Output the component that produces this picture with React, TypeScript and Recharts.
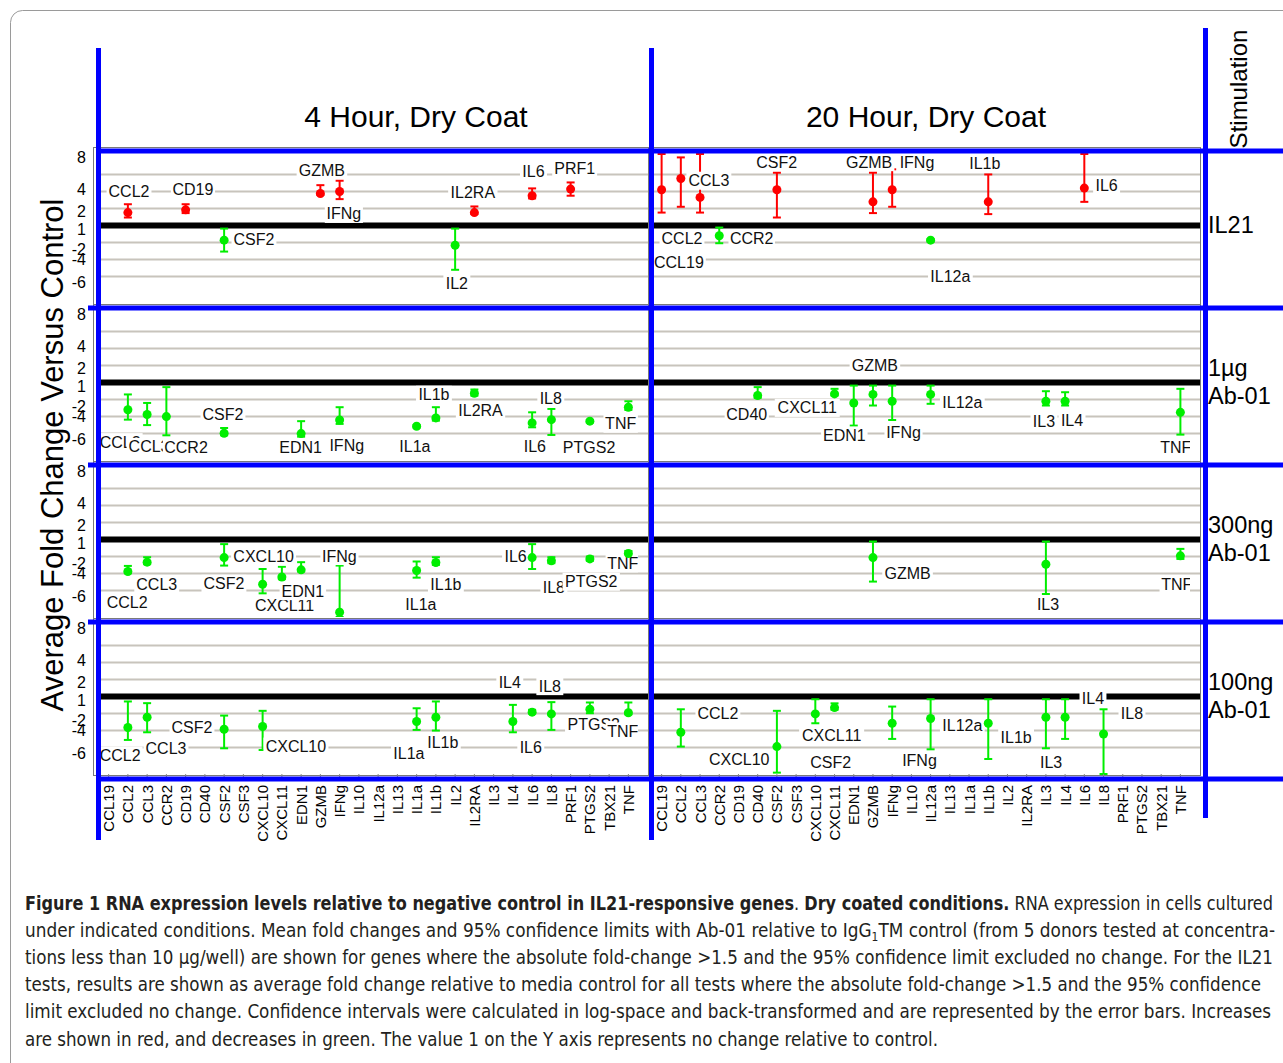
import { ScatterChart, Scatter, XAxis, YAxis, CartesianGrid, ErrorBar } from "recharts"

const FONT = "'Liberation Sans', Arial, Helvetica, sans-serif"
const RED = "#ff0000"
const GREEN = "#00ee00"
const BLUE = "#0000ff"

// genes along the x axis, same in every panel
const genes = [
  "CCL19", "CCL2", "CCL3", "CCR2", "CD19", "CD40", "CSF2", "CSF3", "CXCL10", "CXCL11",
  "EDN1", "GZMB", "IFNg", "IL10", "IL12a", "IL13", "IL1a", "IL1b", "IL2", "IL2RA",
  "IL3", "IL4", "IL6", "IL8", "PRF1", "PTGS2", "TBX21", "TNF",
]

// the y axis is a compressed log scale, 0 = fold change 1 (no change)
const yDomain = [-4.55, 4.2]
const yTickValues = [4.0, 2.1, 0.82, -0.25, -1.4, -2.0, -3.35]
const yTickLabels = ["8", "4", "2", "1", "-2", "-4", "-6"]
const gridValues = [3, 2, 1, -1, -2, -3]

const columnTitles = ["4 Hour, Dry Coat", "20 Hour, Dry Coat"]
const rowTitles = [["IL21"], ["1µg", "Ab-01"], ["300ng", "Ab-01"], ["100ng", "Ab-01"]]

// [gene, mean, lower 95% limit, upper 95% limit]
// [gene, x (gene index), y] = where the gene name is printed
const il21Hr4 = [
  ["CCL2", 0.76, 0.47, 1.25],
  ["CD19", 0.92, 0.73, 1.25],
  ["CSF2", -0.86, -1.53, -0.18],
  ["GZMB", 1.88, 1.8, 2.37],
  ["IFNg", 2.0, 1.55, 2.63],
  ["IL2", -1.16, -2.6, -0.18],
  ["IL2RA", 0.76, 0.67, 1.12],
  ["IL6", 1.75, 1.59, 2.18],
  ["PRF1", 2.14, 1.75, 2.53],
]
const il21Hr4Names = [
  ["CCL2", 1.06, 2.0], ["CD19", 4.38, 2.1], ["CSF2", 7.55, -0.8], ["GZMB", 11.08, 3.25],
  ["IFNg", 12.22, 0.68], ["IL2", 18.09, -3.4], ["IL2RA", 18.92, 1.94], ["IL6", 22.07, 3.2],
  ["PRF1", 24.21, 3.35],
]

const il21Hr20 = [
  ["CCL19", 2.1, 0.76, 4.5],
  ["CCL2", 2.76, 1.1, 4.0],
  ["CCL3", 1.65, 0.76, 4.5],
  ["CCR2", -0.6, -1.04, -0.12],
  ["CSF2", 2.1, 0.47, 3.1],
  ["GZMB", 1.39, 0.73, 3.1],
  ["IFNg", 2.1, 1.1, 3.3],
  ["IL12a", -0.86, -0.95, -0.8],
  ["IL1b", 1.39, 0.67, 3.0],
  ["IL6", 2.2, 1.39, 4.5],
]
const il21Hr20Names = [
  ["CCL19", 0.9, -2.2], ["CCL2", 1.06, -0.75], ["CCL3", 2.46, 2.63], ["CCR2", 4.69, -0.77],
  ["CSF2", 5.99, 3.72], ["GZMB", 10.8, 3.72], ["IFNg", 13.29, 3.72], ["IL12a", 15.03, -3.0],
  ["IL1b", 16.82, 3.67], ["IL6", 23.16, 2.37],
]

const ug1Hr4 = [
  ["CCL2", -1.6, -2.18, -0.7],
  ["CCL3", -1.88, -2.5, -1.2],
  ["CCR2", -2.0, -3.1, -0.27],
  ["CSF2", -2.98, -3.1, -2.67],
  ["EDN1", -3.0, -3.18, -2.27],
  ["IFNg", -2.2, -2.43, -1.45],
  ["IL1a", -2.57, -2.65, -2.5],
  ["IL1b", -2.08, -2.24, -1.45],
  ["IL2RA", -0.63, -0.77, -0.41],
  ["IL6", -2.37, -2.63, -1.75],
  ["IL8", -2.18, -3.08, -1.55],
  ["PTGS2", -2.27, -2.35, -2.2],
  ["TNF", -1.45, -1.61, -1.1],
]
const ug1Hr4Names = [
  ["CCL2", 0.6, -3.5], ["CCL3", 2.1, -3.78], ["CCR2", 4.02, -3.84], ["CSF2", 5.94, -1.9],
  ["EDN1", 9.97, -3.84], ["IFNg", 12.37, -3.72], ["IL1a", 15.91, -3.78], ["IL1b", 16.9, -0.72],
  ["IL2RA", 19.32, -1.65], ["IL6", 22.14, -3.78], ["IL8", 22.97, -0.96], ["PTGS2", 24.96, -3.84],
  ["TNF", 26.6, -2.42],
]

const ug1Hr20 = [
  ["CD40", -0.76, -0.9, -0.27],
  ["CXCL11", -0.67, -0.76, -0.37],
  ["EDN1", -1.2, -2.53, -0.18],
  ["GZMB", -0.7, -1.35, -0.18],
  ["IFNg", -1.1, -2.2, -0.18],
  ["IL12a", -0.7, -1.25, -0.18],
  ["IL3", -1.1, -1.35, -0.51],
  ["IL4", -1.1, -1.35, -0.57],
  ["TNF", -1.75, -3.06, -0.37],
]
const ug1Hr20Names = [
  ["CD40", 4.43, -1.9], ["CXCL11", 7.58, -1.49], ["EDN1", 9.51, -3.12], ["GZMB", 11.1, 1.0],
  ["IFNg", 12.59, -2.92], ["IL12a", 15.65, -1.2], ["IL3", 19.9, -2.27], ["IL4", 21.36, -2.23],
  ["TNF", 26.76, -3.84],
]

const ng300Hr4 = [
  ["CCL2", -1.88, -1.98, -1.55],
  ["CCL3", -1.33, -1.45, -1.04],
  ["CSF2", -1.06, -1.53, -0.27],
  ["CXCL10", -2.63, -3.16, -1.73],
  ["CXCL11", -2.2, -2.33, -1.6],
  ["EDN1", -1.78, -1.88, -1.33],
  ["IFNg", -4.27, -4.6, -1.53],
  ["IL1a", -1.82, -2.24, -1.29],
  ["IL1b", -1.35, -1.49, -1.04],
  ["IL6", -1.06, -1.73, -0.27],
  ["IL8", -1.25, -1.39, -1.04],
  ["PTGS2", -1.14, -1.25, -1.0],
  ["TNF", -0.82, -0.9, -0.67],
]
const ng300Hr4Names = [
  ["CCL2", 0.96, -3.68], ["CCL3", 2.5, -2.63], ["CSF2", 5.99, -2.6], ["CXCL10", 8.05, -1.0],
  ["CXCL11", 9.14, -3.9], ["EDN1", 10.09, -3.03], ["IFNg", 11.99, -0.97], ["IL1a", 16.22, -3.84],
  ["IL1b", 17.52, -2.63], ["IL6", 21.14, -1.0], ["IL8", 23.13, -2.82], ["PTGS2", 25.07, -2.48],
  ["TNF", 26.71, -1.4],
]

const ng300Hr20 = [
  ["GZMB", -1.06, -2.47, -0.12],
  ["IL3", -1.45, -3.2, -0.12],
  ["TNF", -0.96, -1.14, -0.55],
]
const ng300Hr20Names = [["GZMB", 12.8, -1.98], ["IL3", 20.11, -3.8], ["TNF", 26.81, -2.63]]

const ng100Hr4 = [
  ["CCL2", -1.82, -2.55, -0.29],
  ["CCL3", -1.22, -2.1, -0.39],
  ["CSF2", -1.92, -3.04, -1.12],
  ["CXCL10", -1.76, -3.14, -0.84],
  ["IL1a", -1.47, -1.96, -0.69],
  ["IL1b", -1.22, -2.0, -0.29],
  ["IL4", -1.47, -2.1, -0.49],
  ["IL6", -0.92, -1.0, -0.78],
  ["IL8", -1.02, -1.96, -0.33],
  ["PTGS2", -0.75, -0.98, -0.35],
  ["TNF", -0.95, -1.05, -0.35],
]
const ng100Hr4Names = [
  ["CCL2", 0.6, -3.46], ["CCL3", 2.98, -3.03], ["CSF2", 4.33, -1.8], ["CXCL10", 9.73, -2.94],
  ["IL1a", 15.6, -3.36], ["IL1b", 17.36, -2.68], ["IL4", 20.84, 0.85], ["IL6", 21.93, -2.97],
  ["IL8", 22.92, 0.61], ["PTGS2", 25.2, -1.66], ["TNF", 26.71, -2.05],
]

const ng100Hr20 = [
  ["CCL2", -2.1, -2.94, -0.75],
  ["CSF2", -2.94, -4.47, -0.84],
  ["CXCL10", -1.02, -1.57, -0.16],
  ["CXCL11", -0.65, -0.78, -0.4],
  ["IFNg", -1.57, -2.49, -0.59],
  ["IL12a", -1.29, -3.1, -0.16],
  ["IL1b", -1.57, -3.67, -0.16],
  ["IL3", -1.22, -3.04, -0.16],
  ["IL4", -1.22, -2.49, -0.16],
  ["IL8", -2.2, -4.6, -0.75],
]
const ng100Hr20Names = [
  ["CCL2", 2.93, -1.02], ["CXCL10", 4.04, -3.72], ["CSF2", 8.8, -3.88], ["CXCL11", 8.85, -2.28],
  ["IFNg", 13.42, -3.78], ["IL12a", 15.65, -1.68], ["IL1b", 18.45, -2.38], ["IL3", 20.27, -3.9],
  ["IL4", 22.45, -0.14], ["IL8", 24.48, -1.02],
]

const panels = [
  [il21Hr4, il21Hr4Names], [il21Hr20, il21Hr20Names],
  [ug1Hr4, ug1Hr4Names], [ug1Hr20, ug1Hr20Names],
  [ng300Hr4, ng300Hr4Names], [ng300Hr20, ng300Hr20Names],
  [ng100Hr4, ng100Hr4Names], [ng100Hr20, ng100Hr20Names],
]

const captionLines = [
  "under indicated conditions. Mean fold changes and 95% confidence limits with Ab-01 relative to IgG",
  "tions less than 10 µg/well) are shown for genes where the absolute fold-change >1.5 and the 95% confidence limit excluded no change. For the IL21",
  "tests, results are shown as average fold change relative to media control for all tests where the absolute fold-change >1.5 and the 95% confidence",
  "limit excluded no change. Confidence intervals were calculated in log-space and back-transformed and are represented by the error bars. Increases",
  "are shown in red, and decreases in green. The value 1 on the Y axis represents no change relative to control.",
]

// layout
const PLOT_H = 149
const ROW_STEP = 157
const FIRST_TOP = 153.6
const TOP_PAD = 12
const AXIS_H = 74
const BLUE_Y = [151, 308, 465, 622, 779]

function textWidth(s: string, size: number) {
  let w = 0
  for (const c of s) {
    if (c === "I") w += 0.278
    else if ("LFTZ".includes(c)) w += 0.6
    else if (c === "M") w += 0.833
    else if (c === "G") w += 0.778
    else if (/[A-Z]/.test(c)) w += 0.7
    else if (c === "l" || c === "i") w += 0.222
    else if (c === "r") w += 0.333
    else w += 0.556
  }
  return w * size
}

function NameTag(props: any) {
  const { cx, cy, payload } = props
  const w = textWidth(payload.name, 16) + 4
  return (
    <g>
      <rect x={cx - w / 2} y={cy - 9} width={w} height={18} fill="#fff" />
      <text x={cx} y={cy} textAnchor="middle" dominantBaseline="central" fontSize={16} fontFamily={FONT} fill="#111">
        {payload.name}
      </text>
    </g>
  )
}

const dot = (color: string) => (p: any) => <circle cx={p.cx} cy={p.cy} r={4.5} fill={color} />

function GeneTick(props: any) {
  const { x, y, payload } = props
  return (
    <text x={x} y={y} transform={`rotate(-90 ${x} ${y})`} textAnchor="end" dominantBaseline="central"
      fontSize={15} fontFamily={FONT} fill="#000">
      {genes[payload.value]}
    </text>
  )
}

function Panel({ points, names, col, row }: any) {
  const bottom = row === 3
  const left = col === 0
  // error bars are cut at the edges of the plot, as in the original
  const data = points.map(([gene, y, lo, hi]: any) => ({
    x: genes.indexOf(gene),
    y,
    err: [y - Math.max(lo, yDomain[0]), Math.min(hi, yDomain[1]) - y],
  }))
  const up = data.filter((d: any) => d.y > 0)
  const down = data.filter((d: any) => d.y <= 0)
  const tags = names.map(([name, x, y]: any) => ({ name, x, y }))
  const width = left ? 579 : 548
  const height = TOP_PAD + PLOT_H + (bottom ? AXIS_H : 0)
  return (
    <div style={{ position: "absolute", left: left ? 69 : 652, top: FIRST_TOP + row * ROW_STEP - TOP_PAD, width, height }}>
      <ScatterChart width={width} height={height} margin={{ top: TOP_PAD, right: 0, bottom: 0, left: 0 }}>
        <CartesianGrid vertical={false} horizontalValues={gridValues} stroke="#c8c4bc" strokeWidth={2} />
        <CartesianGrid vertical={false} horizontalValues={[0]} stroke="#000" strokeWidth={6} />
        <XAxis
          type="number"
          dataKey="x"
          domain={[-0.5, 27.5]}
          ticks={genes.map((_, i) => i)}
          interval={0}
          padding={{ left: 0, right: 10 }}
          allowDataOverflow
          hide={!bottom}
          height={AXIS_H}
          axisLine={false}
          tickLine={{ stroke: "#888" }}
          tickSize={4}
          tickMargin={7}
          tick={GeneTick}
        />
        <YAxis
          type="number"
          dataKey="y"
          domain={yDomain}
          ticks={yTickValues}
          interval={0}
          tickFormatter={(v: number) => yTickLabels[yTickValues.indexOf(v)]}
          allowDataOverflow
          hide={!left}
          width={30}
          axisLine={false}
          tickLine={false}
          tickSize={6}
          tickMargin={7}
          tick={{ fontSize: 16, fill: "#000", fontFamily: FONT }}
        />
        <Scatter data={tags} shape={NameTag} isAnimationActive={false} />
        <Scatter data={up} shape={dot(RED)} isAnimationActive={false}>
          <ErrorBar dataKey="err" direction="y" width={4} stroke={RED} strokeWidth={2} isAnimationActive={false} />
        </Scatter>
        <Scatter data={down} shape={dot(GREEN)} isAnimationActive={false}>
          <ErrorBar dataKey="err" direction="y" width={4} stroke={GREEN} strokeWidth={2} isAnimationActive={false} />
        </Scatter>
      </ScatterChart>
    </div>
  )
}

export default function App() {
  return (
    <div style={{ position: "absolute", left: 0, top: 0, width: 1283, height: 1063, overflow: "hidden", background: "#fff", fontFamily: FONT }}>
      <svg width={1283} height={1063} style={{ position: "absolute", left: 0, top: 0 }}>
        <rect x={10.5} y={10.5} width={1320} height={1100} rx={12} fill="none" stroke="#9a9a9a" />
        {[0, 1, 2, 3].map((r) => (
          <g key={r}>
            <rect x={93.5} y={BLUE_Y[r] - 3.5} width={555} height={BLUE_Y[r + 1] - BLUE_Y[r]} fill="none" stroke="#7a7a7a" />
            <rect x={652.5} y={BLUE_Y[r] - 3.5} width={548} height={BLUE_Y[r + 1] - BLUE_Y[r]} fill="none" stroke="#7a7a7a" />
          </g>
        ))}
      </svg>

      {panels.map(([points, names], i) => (
        <Panel key={i} points={points} names={names} col={i % 2} row={Math.floor(i / 2)} />
      ))}

      <svg width={1283} height={1063} style={{ position: "absolute", left: 0, top: 0, pointerEvents: "none" }}>
        {/* blue frame */}
        <rect x={96} y={48} width={5} height={792} fill={BLUE} />
        <rect x={649} y={48} width={5} height={792} fill={BLUE} />
        <rect x={1203} y={28} width={5} height={790} fill={BLUE} />
        {BLUE_Y.map((y, i) => (
          <rect key={i} x={i === 0 || i === 4 ? 96 : 88} y={y - 2.5} width={1283} height={5} fill={BLUE} />
        ))}

        {/* headers */}
        <text x={416} y={116} textAnchor="middle" dominantBaseline="central" fontSize={30} fontFamily={FONT} fill="#000">{columnTitles[0]}</text>
        <text x={926} y={116} textAnchor="middle" dominantBaseline="central" fontSize={30} fontFamily={FONT} fill="#000">{columnTitles[1]}</text>
        <text x={1238} y={89} transform="rotate(-90 1238 89)" textAnchor="middle" dominantBaseline="central" fontSize={24} fontFamily={FONT} fill="#000">Stimulation</text>
        {rowTitles.map((lines, r) => {
          const mid = 225 + r * ROW_STEP
          return lines.map((t, k) => (
            <text key={`${r}-${k}`} x={1208} y={lines.length === 1 ? mid : mid - 14 + k * 28} dominantBaseline="central" fontSize={23.5} fontFamily={FONT} fill="#000">{t}</text>
          ))
        })}
        <text x={52} y={455} transform="rotate(-90 52 455)" textAnchor="middle" dominantBaseline="central" fontSize={31} fontFamily={FONT} fill="#000">
          Average Fold Change Versus Control
        </text>

        {/* caption */}
        <g fontFamily="'DejaVu Sans Condensed', 'Liberation Sans Narrow', 'Liberation Sans', sans-serif" fontSize={19} fill="#231f20">
          <text x={25} y={910} textLength={1248} lengthAdjust="spacingAndGlyphs">
            <tspan fontWeight="bold">Figure 1 RNA expression levels relative to negative control in IL21-responsive genes</tspan>
            <tspan>. </tspan>
            <tspan fontWeight="bold">Dry coated conditions.</tspan>
            <tspan> RNA expression in cells cultured</tspan>
          </text>
          <text x={25} y={937} textLength={1250} lengthAdjust="spacingAndGlyphs">
            {captionLines[0]}
            <tspan fontSize={12} dy={4}>1</tspan>
            <tspan dy={-4}>TM control (from 5 donors tested at concentra-</tspan>
          </text>
          <text x={25} y={964} textLength={1248} lengthAdjust="spacingAndGlyphs">{captionLines[1]}</text>
          <text x={25} y={991} textLength={1236} lengthAdjust="spacingAndGlyphs">{captionLines[2]}</text>
          <text x={25} y={1018} textLength={1246} lengthAdjust="spacingAndGlyphs">{captionLines[3]}</text>
          <text x={25} y={1046} textLength={913} lengthAdjust="spacingAndGlyphs">{captionLines[4]}</text>
        </g>
      </svg>
    </div>
  )
}
